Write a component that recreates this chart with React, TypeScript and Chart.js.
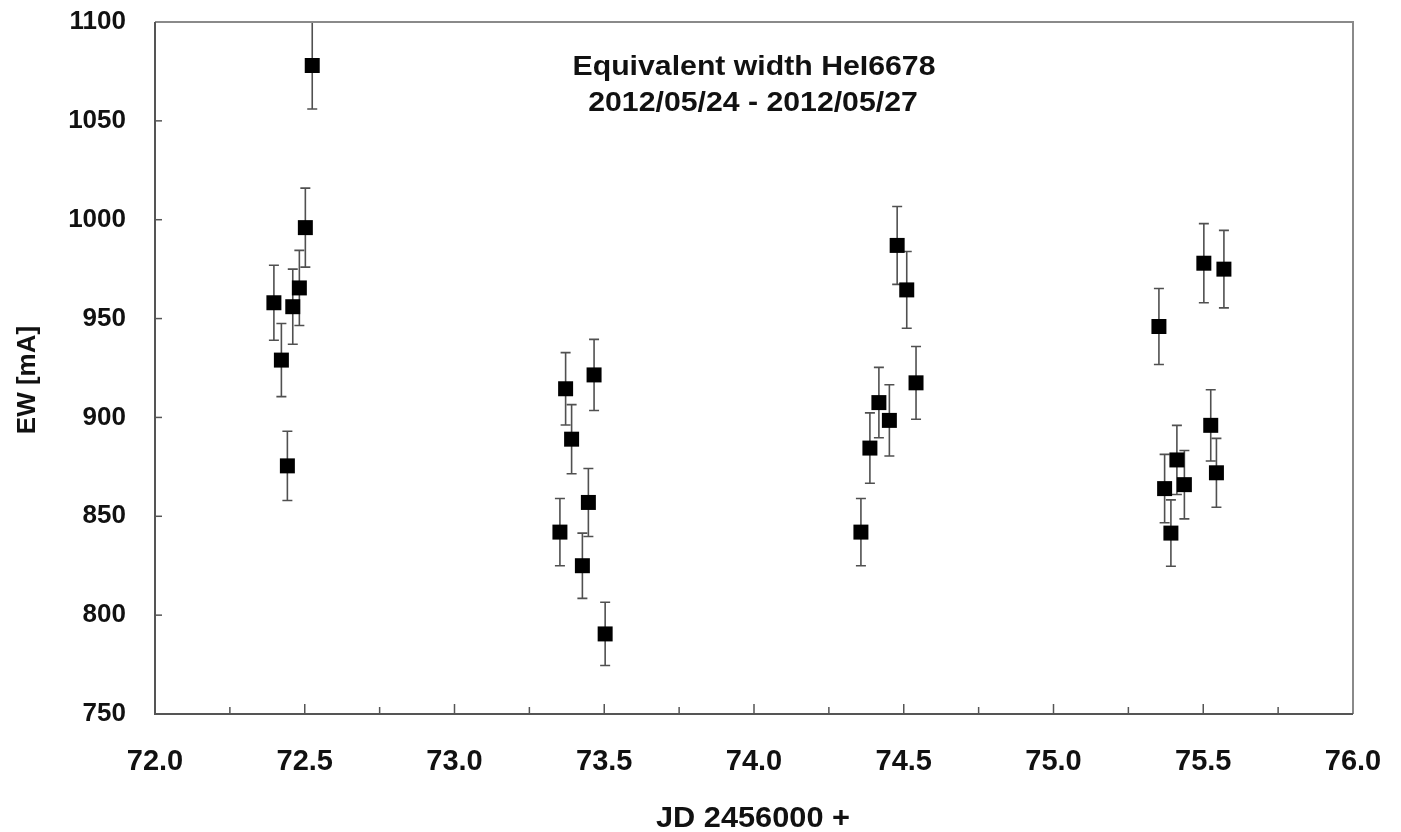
import { useEffect, useRef } from "react";
import { Chart, registerables } from "chart.js";

Chart.register(...registerables);

// JD - 2456000
const jdValues = [
  72.397, 72.422, 72.442, 72.46, 72.482, 72.502, 72.525,
  73.352, 73.371, 73.391, 73.427, 73.447, 73.466, 73.503,
  74.357, 74.387, 74.417, 74.452, 74.478, 74.51, 74.541,
  75.352, 75.371, 75.392, 75.412, 75.437, 75.502, 75.525, 75.544, 75.569,
];
// Equivalent width [mA]
const ewValues = [
  958, 929, 875.5, 956, 965.5, 996, 1078,
  842, 914.5, 889, 825, 857, 921.5, 790.5,
  842, 884.5, 907.5, 898.5, 987, 964.5, 917.5,
  946, 864, 841.5, 878.5, 866, 978, 896, 872, 975,
];
// error bar half-lengths [mA]
const ewErrors = [
  19, 18.5, 17.5, 19, 19, 20, 22,
  17, 18.3, 17.5, 16.5, 17.2, 18, 16,
  17, 17.8, 17.8, 18, 19.7, 19.4, 18.4,
  19.2, 17.3, 16.8, 17.5, 17.3, 20, 18, 17.4, 19.6,
];

const titleLines = ["Equivalent width HeI6678", "2012/05/24 - 2012/05/27"];
const xAxisTitle = "JD 2456000 +";
const yAxisTitle = "EW [mA]";

const FONT = '"Liberation Sans", Arial, Helvetica, sans-serif';

function stretchedText(ctx: any, text: string, x: number, y: number, sx: number) {
  ctx.save();
  ctx.translate(x, y);
  ctx.scale(sx, 1);
  ctx.fillText(text, 0, 0);
  ctx.restore();
}

const decorPlugin = {
  id: "decor",
  beforeDatasetsDraw(chart: any) {
    const { ctx } = chart;
    const xs = chart.scales.x;
    const ys = chart.scales.y;
    ctx.save();
    ctx.strokeStyle = "#505050";
    ctx.lineWidth = 1.6;
    for (let i = 0; i < jdValues.length; i++) {
      const px = xs.getPixelForValue(jdValues[i]);
      const pTop = ys.getPixelForValue(ewValues[i] + ewErrors[i]);
      const pBot = ys.getPixelForValue(ewValues[i] - ewErrors[i]);
      ctx.beginPath();
      ctx.moveTo(px, pTop);
      ctx.lineTo(px, pBot);
      ctx.moveTo(px - 5, pTop);
      ctx.lineTo(px + 5, pTop);
      ctx.moveTo(px - 5, pBot);
      ctx.lineTo(px + 5, pBot);
      ctx.stroke();
    }
    ctx.restore();
  },
  afterDraw(chart: any) {
    const { ctx, chartArea } = chart;
    const { left, right, top, bottom } = chartArea;
    const xs = chart.scales.x;
    const ys = chart.scales.y;
    ctx.save();
    // frame
    ctx.lineWidth = 2;
    ctx.strokeStyle = "#8a8a8a";
    ctx.beginPath();
    ctx.moveTo(left, top);
    ctx.lineTo(right, top);
    ctx.lineTo(right, bottom);
    ctx.stroke();
    ctx.strokeStyle = "#555";
    ctx.beginPath();
    ctx.moveTo(left, top);
    ctx.lineTo(left, bottom);
    ctx.lineTo(right, bottom);
    ctx.stroke();
    // x ticks (major + minor, inward)
    ctx.lineWidth = 1.5;
    const xt = xs.ticks.map((t: any) => t.value);
    for (let i = 0; i < xt.length; i++) {
      const v = xt[i];
      if (i > 0 && i < xt.length - 1) {
        const px = xs.getPixelForValue(v);
        ctx.beginPath();
        ctx.moveTo(px, bottom);
        ctx.lineTo(px, bottom - 10);
        ctx.stroke();
      }
      if (i < xt.length - 1) {
        const pm = xs.getPixelForValue((v + xt[i + 1]) / 2);
        ctx.beginPath();
        ctx.moveTo(pm, bottom);
        ctx.lineTo(pm, bottom - 7);
        ctx.stroke();
      }
    }
    // y ticks (inward)
    ys.ticks.forEach((t: any, i: number) => {
      if (i === 0 || i === ys.ticks.length - 1) return;
      const py = ys.getPixelForValue(t.value);
      ctx.beginPath();
      ctx.moveTo(left, py);
      ctx.lineTo(left + 7, py);
      ctx.stroke();
    });
    // titles
    ctx.fillStyle = "#111";
    ctx.textAlign = "center";
    ctx.textBaseline = "alphabetic";
    ctx.font = `bold 28px ${FONT}`;
    const cx = (left + right) / 2 - 1;
    stretchedText(ctx, titleLines[0], cx + 1, 75, 1.08);
    stretchedText(ctx, titleLines[1], cx, 111, 1.08);
    ctx.font = `bold 29px ${FONT}`;
    stretchedText(ctx, xAxisTitle, cx, 827, 1.06);
    ctx.save();
    ctx.translate(35, 380);
    ctx.rotate(-Math.PI / 2);
    ctx.font = `bold 26px ${FONT}`;
    ctx.fillText(yAxisTitle, 0, 0);
    ctx.restore();
    ctx.restore();
  },
};

export default function App() {
  const canvasRef = useRef<HTMLCanvasElement | null>(null);

  useEffect(() => {
    const canvas = canvasRef.current;
    if (!canvas) return;
    const points = jdValues.map((x, i) => ({ x, y: ewValues[i] }));
    const chart = new Chart(canvas, {
      type: "scatter",
      data: {
        datasets: [
          {
            label: "EW",
            data: points,
            pointStyle: "rect",
            pointRadius: 10.6,
            pointHoverRadius: 10.6,
            backgroundColor: "#000",
            borderColor: "#000",
            borderWidth: 0,
            clip: false,
          } as any,
        ],
      },
      options: {
        animation: false,
        responsive: false,
        devicePixelRatio: 1,
        events: [],
        layout: { padding: { left: 0, right: 48, top: 22, bottom: 0 } },
        plugins: {
          legend: { display: false },
          tooltip: { enabled: false },
          title: { display: false },
        },
        scales: {
          x: {
            type: "linear",
            min: 72,
            max: 76,
            grid: { display: false, drawTicks: false },
            border: { display: false },
            ticks: {
              stepSize: 0.5,
              padding: 31,
              color: "#111",
              font: { family: FONT, size: 29, weight: "bold" },
              callback: (v: any) => Number(v).toFixed(1),
              maxRotation: 0,
              autoSkip: false,
            },
            afterFit: (s: any) => {
              s.height = 118;
              s.paddingLeft = 0;
              s.paddingRight = 0;
            },
          },
          y: {
            type: "linear",
            min: 750,
            max: 1100,
            grid: { display: false, drawTicks: false },
            border: { display: false },
            ticks: {
              stepSize: 50,
              padding: 29,
              color: "#111",
              font: { family: FONT, size: 26, weight: "bold" },
              callback: (v: any) => String(Math.round(Number(v))),
            },
            afterFit: (s: any) => {
              s.width = 155;
              s.paddingTop = 0;
              s.paddingBottom = 0;
            },
          },
        },
      },
      plugins: [decorPlugin],
    });
    return () => chart.destroy();
  }, []);

  return (
    <div style={{ position: "absolute", left: 0, top: 0, width: 1401, height: 832, background: "#fff" }}>
      <canvas ref={canvasRef} width={1401} height={832} style={{ width: 1401, height: 832, display: "block" }} />
    </div>
  );
}
